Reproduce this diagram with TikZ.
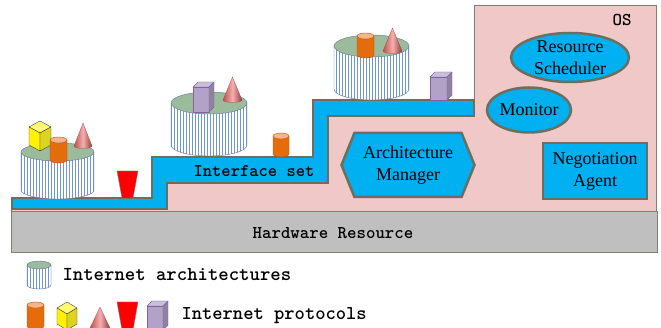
\documentclass[tikz,border=0pt]{standalone}
\usepackage{fontspec}
\setmainfont{Liberation Serif}
\usetikzlibrary{shapes.geometric,shapes.symbols,patterns,positioning}

\definecolor{osblue}{RGB}{0,176,240}
\definecolor{ospink}{RGB}{240,200,200}
\definecolor{osrim}{RGB}{128,128,112}
\definecolor{rimgray}{RGB}{110,110,94}
\definecolor{hwgray}{RGB}{191,191,191}
\definecolor{archgreen}{RGB}{155,187,155}
\definecolor{drumedge}{RGB}{79,110,170}
\definecolor{stripe}{RGB}{110,150,210}
\definecolor{protoorange}{RGB}{228,108,10}
\definecolor{protopeach}{RGB}{246,180,140}
\definecolor{canedge}{RGB}{180,85,10}
\definecolor{boxpurple}{RGB}{179,162,199}
\definecolor{boxedge}{RGB}{128,100,162}
\definecolor{conered}{RGB}{192,80,77}
\definecolor{conelight}{RGB}{245,175,175}

% architecture drum: [y radius] left x, right x, top y, bottom y
\newcommand{\archdrum}[5][9]{%
  \pgfmathsetmacro{\drx}{(#3-#2)/2}
  \draw[drumedge, thin, preaction={fill=white}, pattern=vertical lines, pattern color=stripe]
    (#2,#4) -- (#2,#5) arc[start angle=180, end angle=360, x radius=\drx pt, y radius=#1pt] -- (#3,#4) -- cycle;
  \draw[drumedge!60!gray, thin, fill=archgreen] ({(#2+#3)/2},#4) ellipse[x radius=\drx pt, y radius=#1pt];
}
% protocol can: left x, right x, top y, bottom y
\newcommand{\protocan}[4]{%
  \pgfmathsetmacro{\crx}{(#2-#1)/2}
  \draw[canedge, fill=protoorange]
    (#1,#3) -- (#1,#4) arc[start angle=180, end angle=360, x radius=\crx pt, y radius=3pt] -- (#2,#3) -- cycle;
  \draw[canedge, fill=protopeach] ({(#1+#2)/2},#3) ellipse[x radius=\crx pt, y radius=3pt];
}
% protocol cone: left x, right x, apex y, base y
\newcommand{\protocone}[4]{%
  \pgfmathsetmacro{\crx}{(#2-#1)/2}
  \draw[conered!80!black, very thin, left color=conered, right color=conered!75!black, middle color=conelight]
    ({(#1+#2)/2},#3) -- (#1,#4) arc[start angle=180, end angle=360, x radius=\crx pt, y radius=2.5pt] -- cycle;
}
% protocol cube: left x, right x, top y, bottom y
\newcommand{\protocube}[4]{%
  \pgfmathsetmacro{\ccx}{(#1+#2)/2}
  \begin{scope}[draw=black!75, line join=round]
    \filldraw[fill=yellow!55] (\ccx,#3) -- (#2,{#3+6}) -- (\ccx,{#3+12}) -- (#1,{#3+6}) -- cycle;
    \filldraw[fill=yellow] (#1,{#3+6}) -- (\ccx,{#3+12}) -- (\ccx,#4) -- (#1,{#4-6}) -- cycle;
    \filldraw[fill=yellow!85!black] (\ccx,{#3+12}) -- (#2,{#3+6}) -- (#2,{#4-6}) -- (\ccx,#4) -- cycle;
  \end{scope}
}
% protocol box: left x, right x, top y, bottom y
\newcommand{\protobox}[4]{%
  \begin{scope}[draw=boxedge, line join=round]
    \filldraw[fill=boxpurple] (#1,{#3+5}) rectangle ({#2-5},#4);
    \filldraw[fill=boxpurple!70!white] (#1,{#3+5}) -- ({#1+5},#3) -- (#2,#3) -- ({#2-5},{#3+5}) -- cycle;
    \filldraw[fill=boxpurple!80!black] ({#2-5},{#3+5}) -- (#2,#3) -- (#2,{#4-5}) -- ({#2-5},#4) -- cycle;
  \end{scope}
}
% protocol cup: left x, right x, top y, bottom y
\newcommand{\protocup}[4]{%
  \filldraw[draw=gray, fill=red] (#1,#3) -- (#2,#3) -- ({#2-5},#4) -- ({#1+5},#4) -- cycle;
}

\begin{document}
\begin{tikzpicture}[x=1pt, y=-1pt,
    serif/.style={font=\fontsize{18}{22}\selectfont, align=center},
    mono/.style={font=\ttfamily\bfseries\fontsize{18}{20}\selectfont},
    osunit/.style={serif, draw=rimgray, line width=2.5pt, fill=osblue, inner sep=0pt}]
  \useasboundingbox (0,0) rectangle (661,328);

  % OS area and the stair of interfaces
  \draw[osrim, fill=ospink] (11,212) -- (11,200) -- (160,200) -- (160,160) -- (320,160) -- (320,105)
    -- (474,105) -- (474,5) -- (656,5) -- (656,212) -- cycle;
  \draw[rimgray, line width=2.5pt, fill=osblue, line join=miter]
    (12,198) -- (152,198) -- (152,157) -- (313,157) -- (313,100) -- (474,100) -- (474,116)
    -- (328,116) -- (328,183) -- (167,183) -- (167,209) -- (12,209) -- cycle;
  \node[mono, font=\ttfamily\bfseries\fontsize{17.7}{20}\selectfont] (iface) at (254,171) {Interface set};

  % hardware
  \draw[osrim, line width=1pt, fill=hwgray] (11,212) rectangle (657,253);
  \node[mono] (hw) at (333,233) {Hardware Resource};
  \node[mono] (os) at (622,20) {OS};

  % architectures with their protocols
  \archdrum{21}{94}{152}{190}
  \protocube{29}{51}{121}{151}
  \protocan{50}{67}{140}{160}
  \protocone{74}{92}{123}{146}
  \protocup{117}{138}{171}{198}

  \archdrum[11]{171}{247}{103}{145}
  \protobox{193}{214}{82}{112}
  \protocone{223}{242}{77}{100}
  \protocan{273}{289}{136}{154}

  \archdrum[11]{334}{409}{46}{89}
  \protocan{357}{374}{36}{55}
  \protocone{383}{402}{28}{51}
  \protobox{430}{452}{72}{100}

  % OS components
  \node[osunit, ellipse, minimum width=118pt, minimum height=49pt] (sched) at (570,57.5) {Resource\\Scheduler};
  \node[osunit, ellipse, minimum width=84pt, minimum height=45pt] (mon) at (529,110) {Monitor};
  \node[osunit, rectangle, minimum width=104pt, minimum height=56pt] (nego) at (595,171) {Negotiation\\Agent};
  \node[osunit, signal, signal to=west and east, signal pointer angle=136,
    minimum width=133pt, minimum height=64pt] (archmgr) at (408,165) {Architecture\\Manager};

  % legend
  \archdrum[4]{27}{51}{265}{285}
  \node[mono, font=\ttfamily\bfseries\fontsize{19.8}{22}\selectfont, anchor=west] (larch) at (59,275) {Internet architectures};
  \protocan{27}{44}{305}{326}
  \protocube{57}{77}{302}{330}
  \protocone{90}{110}{307}{328}
  \protocup{117}{138}{302}{330}
  \protobox{147}{168}{301}{330}
  \node[mono, font=\ttfamily\bfseries\fontsize{19.6}{22}\selectfont, anchor=west] (lproto) at (178,316) {Internet protocols};
\end{tikzpicture}
\end{document}
